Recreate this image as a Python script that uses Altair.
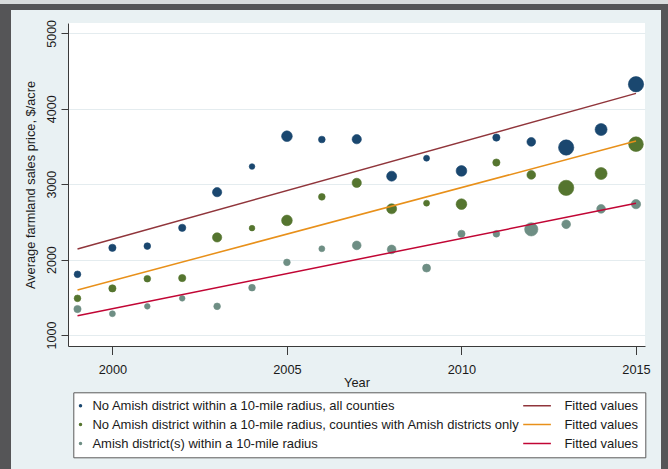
import altair as alt
import pandas as pd

# ---------------------------------------------------------------------------
# Data: average farmland sales price ($/acre) per year and group,
# with the number of sales behind each yearly average (marker weight)
# ---------------------------------------------------------------------------
years = list(range(1999, 2016))

price_all_counties = [1805, 2156, 2179, 2421, 2894, 3234, 3636, 3592, 3596,
                      3106, 3344, 3176, 3618, 3561, 3486, 3724, 4325]
price_amish_counties = [1486, 1618, 1746, 1755, 2294, 2417, 2519, 2832, 3017,
                        2673, 2748, 2735, 3287, 3123, 2951, 3141, 3530]
price_amish_radius = [1344, 1282, 1380, 1486, 1380, 1627, 1963, 2143, 2188,
                      2135, 1887, 2342, 2342, 2401, 2468, 2673, 2735]

sales_all_counties = [45, 53, 45, 53, 86, 32, 114, 45, 86,
                      100, 36, 114, 53, 76, 234, 144, 234]
sales_amish_counties = [45, 53, 45, 53, 86, 32, 114, 45, 86,
                        100, 36, 114, 53, 76, 234, 144, 216]
sales_amish_radius = [53, 36, 32, 32, 45, 45, 45, 36, 76,
                      76, 64, 53, 45, 177, 76, 76, 86]

# Fitted linear trends (first and last year)
fit_years = [1999, 2015]
fit_all_counties = [2140, 4204]
fit_amish_counties = [1597, 3572]
fit_amish_radius = [1256, 2746]

group_labels = [
    "No Amish district within a 10-mile radius, all counties",
    "No Amish district within a 10-mile radius, counties with Amish districts only",
    "Amish district(s) within a 10-mile radius",
]
fit_labels = [
    "Fitted values (all counties)",
    "Fitted values (Amish counties)",
    "Fitted values (Amish districts)",
]

point_colors = ["#1a476f", "#55752f", "#6e8e84"]
line_colors = ["#90353b", "#e8901a", "#c10534"]

# ---------------------------------------------------------------------------
# Tables
# ---------------------------------------------------------------------------
price_series = [price_all_counties, price_amish_counties, price_amish_radius]
sales_series = [sales_all_counties, sales_amish_counties, sales_amish_radius]
fit_series = [fit_all_counties, fit_amish_counties, fit_amish_radius]

pts_rows = []
for label, prices, sales in zip(group_labels, price_series, sales_series):
    for yr, p, n in zip(years, prices, sales):
        pts_rows.append({"series": label, "year": yr, "price": p, "sales": n})
pts_df = pd.DataFrame(pts_rows)

fit_rows = []
for label, vals in zip(fit_labels, fit_series):
    for yr, v in zip(fit_years, vals):
        fit_rows.append({"series": label, "year": yr, "price": v})
fit_df = pd.DataFrame(fit_rows)

# Legend order: scatter / fitted line pairs, two columns (row by row)
domain = []
colors = []
shapes = []
LINE_KEY = "M -29.3,0 L -1.6,0"
for g, f, pc, lc in zip(group_labels, fit_labels, point_colors, line_colors):
    domain += [g, f]
    colors += [pc, lc]
    shapes += ["circle", LINE_KEY]

FONT = "Liberation Sans"
INK = "#1a1a1a"
AXIS_INK = "#3a3a3a"

x_scale = alt.Scale(domain=[1998.728, 2015.258], nice=False, zero=False)
y_scale = alt.Scale(domain=[854, 5137], nice=False, zero=False)

x_axis = alt.Axis(
    values=[2000, 2005, 2010, 2015], format="d", title="Year", grid=False,
    tickSize=8.5, labelPadding=8.5, labelFont=FONT, labelFontSize=12.8,
    labelColor=INK, titleFont=FONT, titleFontSize=12.8, titleFontWeight="normal",
    titleColor=INK, titleY=36, titleBaseline="middle",
    domainColor=AXIS_INK, tickColor=AXIS_INK, labelFlush=False,
)
y_axis = alt.Axis(
    values=[1000, 2000, 3000, 4000, 5000], format="d",
    title="Average farmland sales price, $/acre",
    grid=True, gridColor="#e4ecef", gridWidth=1,
    tickSize=7, labelPadding=5.8, labelAngle=270, labelAlign="center",
    labelBaseline="alphabetic", labelFont=FONT, labelFontSize=12.5,
    labelColor=INK, titleFont=FONT, titleFontSize=12.8, titleFontWeight="normal",
    titleColor=INK, titleAngle=270, titleX=-33.5, titleY=161.5,
    titleAlign="center", titleBaseline="alphabetic",
    domainColor=AXIS_INK, tickColor=AXIS_INK, labelFlush=False,
)

legend = alt.Legend(
    title=None, orient="none", legendX=5.3, legendY=369.3,
    direction="horizontal", columns=2,
    fillColor="white", strokeColor="#5a5a5a", padding=6.7,
    labelExpr="split(datum.value, ' (')[0]", labelLimit=1000,
    labelFont=FONT, labelFontSize=13, labelColor=INK, labelOffset=5.4,
    symbolSize=4, symbolStrokeWidth=1.5, symbolOpacity=1, symbolOffset=-6,
    rowPadding=5, columnPadding=-1,
)

fill_scale = alt.Scale(domain=domain, range=colors)
stroke_scale = alt.Scale(domain=domain, range=colors)
shape_scale = alt.Scale(domain=domain, range=shapes)

points = alt.Chart(pts_df).mark_point(filled=True, opacity=1, strokeWidth=0.6).encode(
    x=alt.X("year:Q", scale=x_scale, axis=x_axis),
    y=alt.Y("price:Q", scale=y_scale, axis=y_axis),
    size=alt.Size("sales:Q", scale=alt.Scale(domain=[0, 250], range=[0, 250]), legend=None),
    fill=alt.Fill("series:N", scale=fill_scale, legend=legend),
    stroke=alt.Stroke("series:N", scale=stroke_scale, legend=legend),
    shape=alt.Shape("series:N", scale=shape_scale, legend=legend),
)

fits = alt.Chart(fit_df).mark_line(strokeWidth=1.5).encode(
    x=alt.X("year:Q", scale=x_scale),
    y=alt.Y("price:Q", scale=y_scale),
    stroke=alt.Stroke("series:N", scale=stroke_scale, legend=None),
)

# Dark outer frame around the figure
one_row = alt.Data(values=[{}])
FRAME = "#555557"
frame_left = alt.Chart(one_row).mark_rule(color=FRAME, strokeWidth=11).encode(
    x=alt.value(-62.5), y=alt.value(-23), y2=alt.value(446))
frame_right = alt.Chart(one_row).mark_rule(color=FRAME, strokeWidth=7).encode(
    x=alt.value(596.5), y=alt.value(-23), y2=alt.value(446))
frame_top = alt.Chart(one_row).mark_rule(color=FRAME, strokeWidth=6).encode(
    x=alt.value(-68), x2=alt.value(600), y=alt.value(-16))
frame_edge = alt.Chart(one_row).mark_rule(color="#d9dcdd", strokeWidth=4).encode(
    x=alt.value(-68), x2=alt.value(600), y=alt.value(-21))

chart = alt.layer(points, fits, frame_left, frame_right, frame_top, frame_edge).properties(
    width=577, height=323,
    autosize=alt.AutoSizeParams(type="none"),
    padding={"left": 68, "top": 23, "right": 23, "bottom": 123},
).configure(
    background="#e9f1f3",
).configure_view(
    fill="white", stroke=None,
)

chart.save("out.html", embed_options={"renderer": "svg", "actions": False})
